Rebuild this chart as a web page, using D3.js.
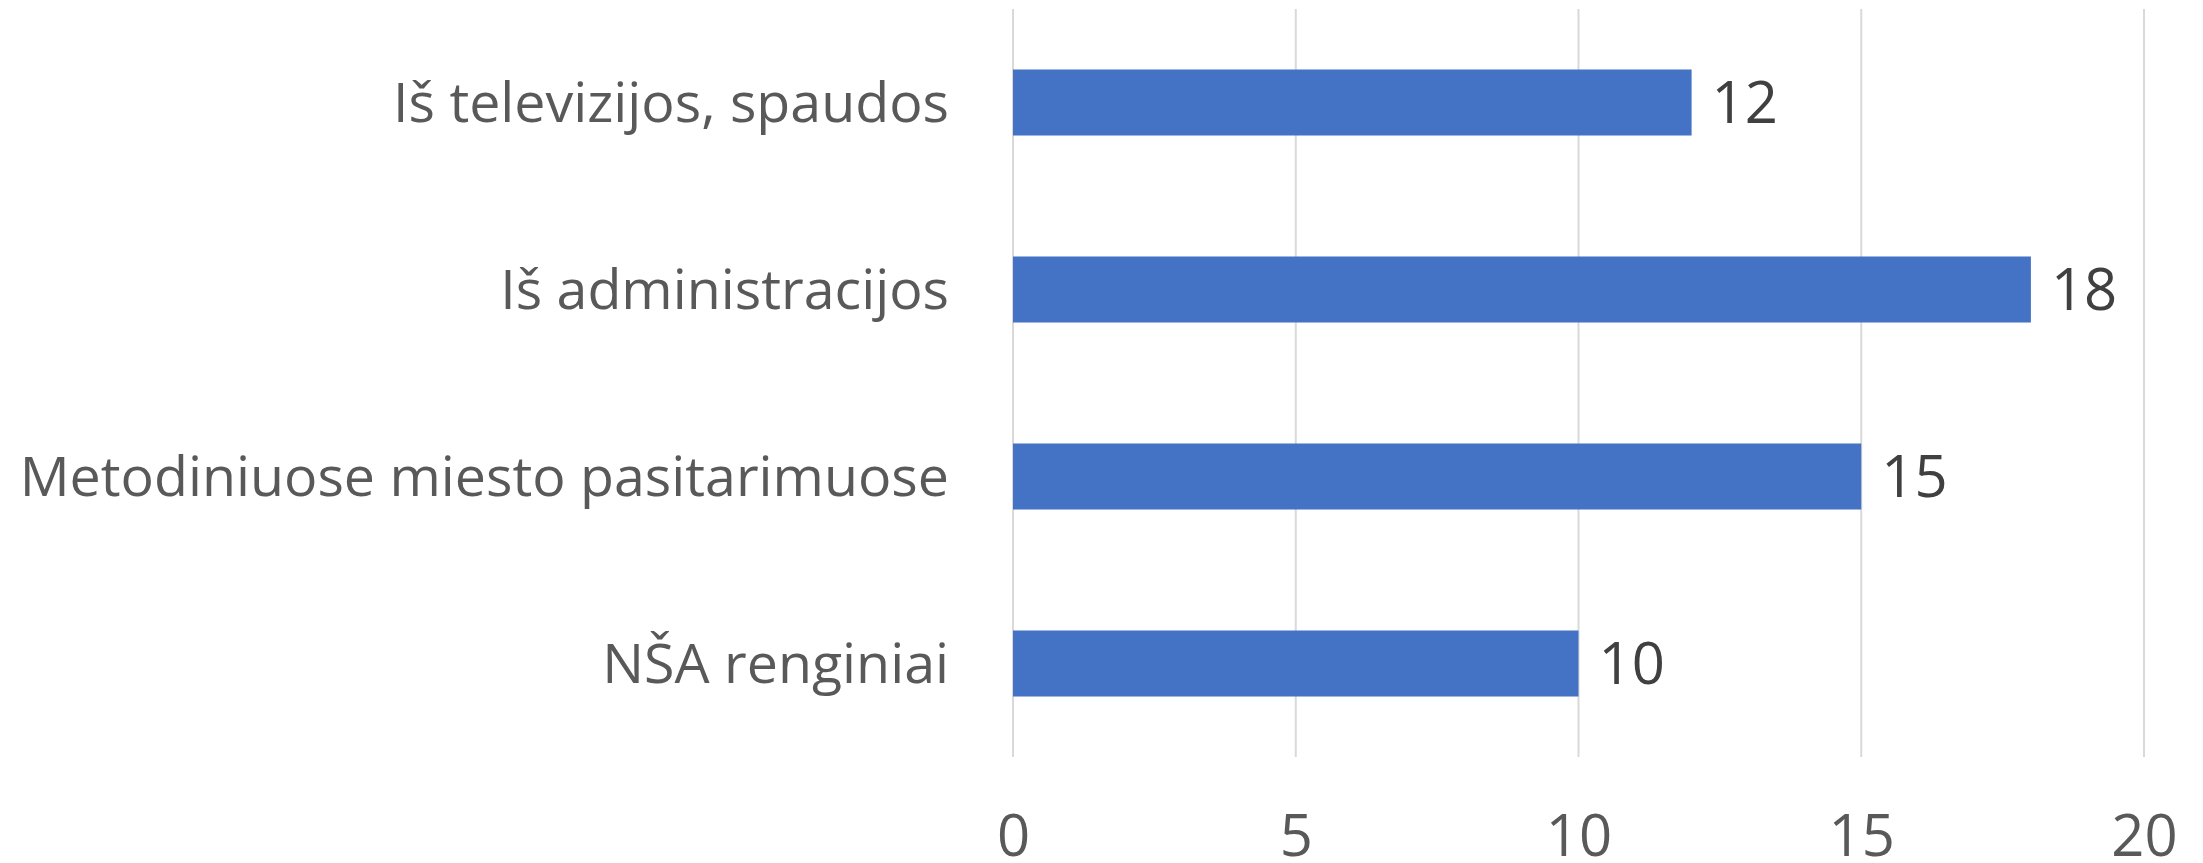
<!DOCTYPE html>
<html>
<head>
<meta charset="utf-8">
<script src="https://cdn.jsdelivr.net/npm/d3@7"></script>
<style>
  body { margin: 0; background: #fff; }
  text { font-family: "Open Sans", sans-serif; }
</style>
</head>
<body>
<div id="chart"></div>
<script>
// data
var categories = ["Iš televizijos, spaudos", "Iš administracijos", "Metodiniuose miesto pasitarimuose", "NŠA renginiai"];
var values = [12, 18, 15, 10];
var xTicks = [0, 5, 10, 15, 20];

var svgWidth = 2203;
var svgHeight = 863;

var margin = { top: 9, right: 59, bottom: 106, left: 1013 };
var width = svgWidth - margin.left - margin.right;
var height = svgHeight - margin.top - margin.bottom;

var svg = d3.select("#chart")
    .append("svg")
    .attr("width", svgWidth)
    .attr("height", svgHeight);

var chartGroup = svg.append("g")
    .attr("transform", `translate(${margin.left}, ${margin.top})`);

var xScale = d3.scaleLinear()
    .domain([0, 20])
    .range([0, width]);

var yScale = d3.scaleBand()
    .domain(categories)
    .range([0, height])
    .paddingInner(0.647)
    .paddingOuter(0.3235);

// gridlines
chartGroup.selectAll(".grid")
    .data(xTicks)
    .enter()
    .append("line")
    .attr("class", "grid")
    .attr("x1", d => xScale(d))
    .attr("x2", d => xScale(d))
    .attr("y1", 0)
    .attr("y2", height)
    .attr("stroke", "#d9d9d9")
    .attr("stroke-width", 2);

// x axis labels
var bottomAxis = d3.axisBottom(xScale)
    .tickValues(xTicks)
    .tickSize(0)
    .tickPadding(99);

var xAxisG = chartGroup.append("g")
    .attr("transform", `translate(0, ${height})`)
    .call(bottomAxis);
xAxisG.select(".domain").remove();
xAxisG.selectAll("text")
    .attr("dy", 0)
    .attr("font-size", "58px")
    .attr("font-family", "Open Sans")
    .attr("fill", "#595959");

// category labels
var leftAxis = d3.axisLeft(yScale)
    .tickSize(0)
    .tickPadding(64);

var yAxisG = chartGroup.append("g")
    .call(leftAxis);
yAxisG.select(".domain").remove();
yAxisG.selectAll("text")
    .attr("dy", "0.36em")
    .attr("font-size", "55.5px")
    .attr("font-family", "Open Sans")
    .attr("fill", "#595959");

// bars
chartGroup.selectAll(".bar")
    .data(values)
    .enter()
    .append("rect")
    .attr("class", "bar")
    .attr("x", xScale(0))
    .attr("y", (d, i) => yScale(categories[i]))
    .attr("width", d => xScale(d) - xScale(0))
    .attr("height", yScale.bandwidth())
    .attr("fill", "#4472c4");

// value labels
chartGroup.selectAll(".valueLabel")
    .data(values)
    .enter()
    .append("text")
    .attr("class", "valueLabel")
    .attr("x", d => xScale(d) + 20)
    .attr("y", (d, i) => yScale(categories[i]) + yScale.bandwidth() / 2)
    .attr("dy", "0.36em")
    .attr("font-size", "58px")
    .attr("fill", "#404040")
    .text(d => d);
</script>
</body>
</html>
